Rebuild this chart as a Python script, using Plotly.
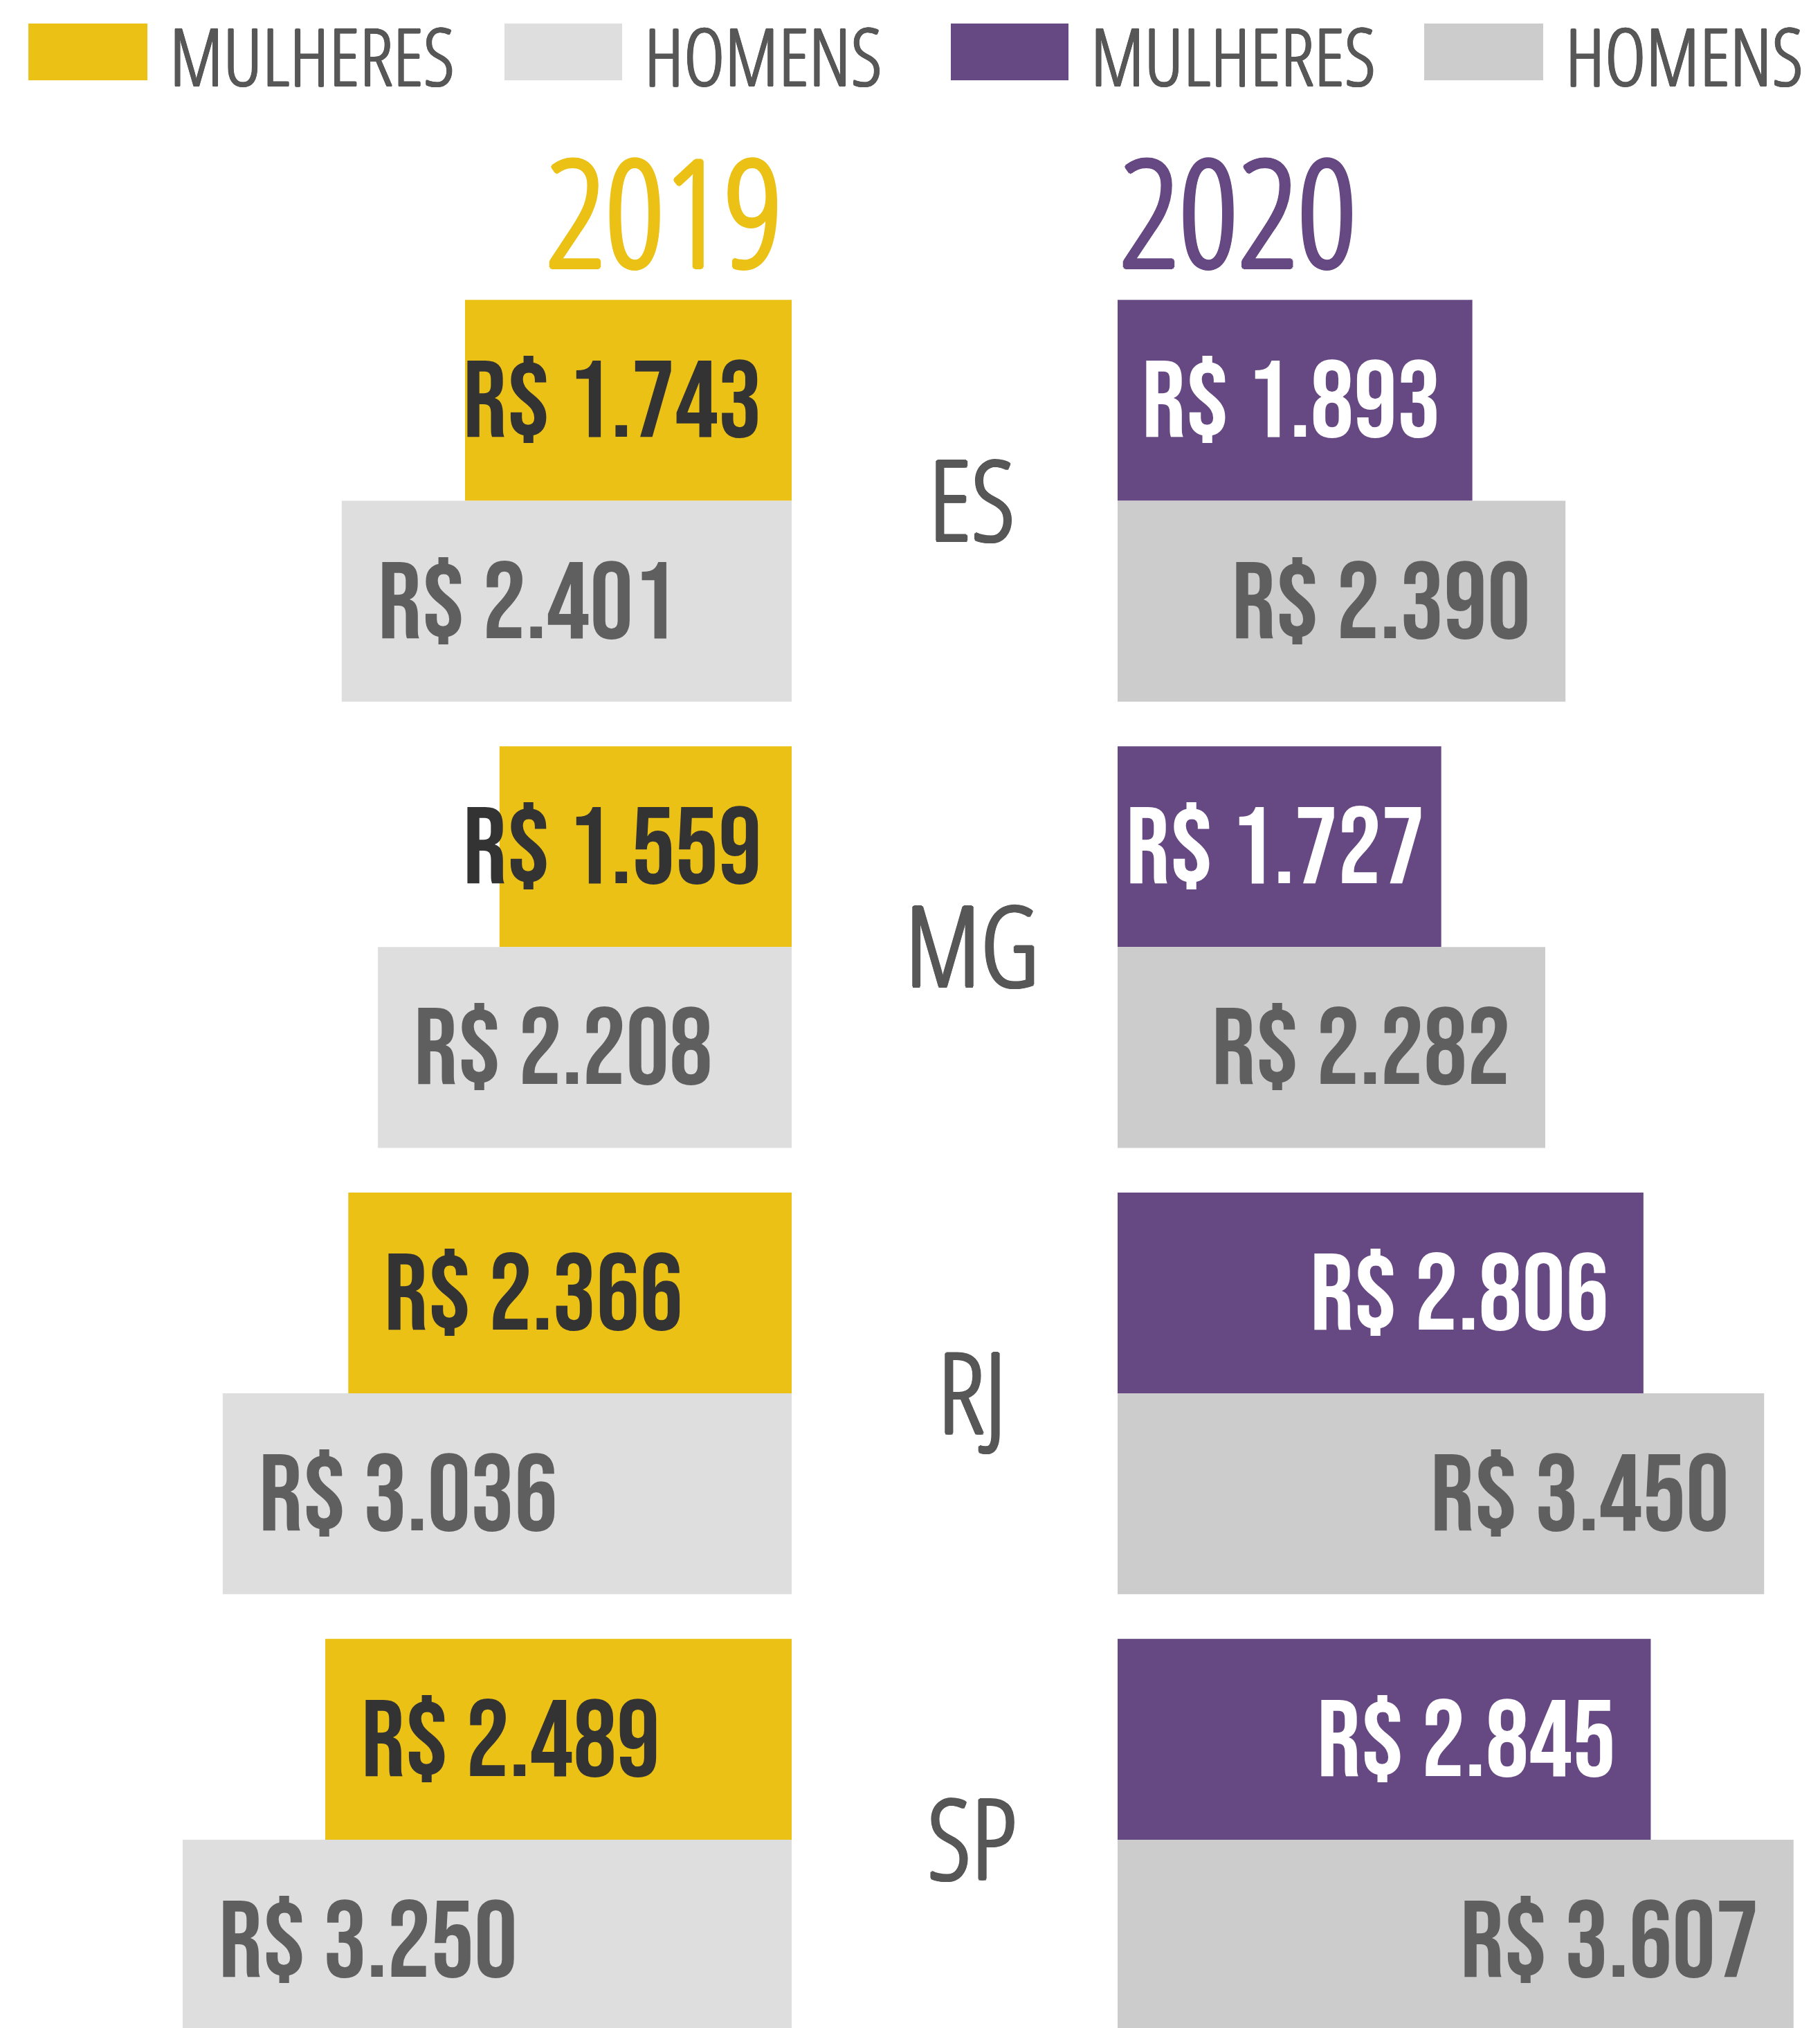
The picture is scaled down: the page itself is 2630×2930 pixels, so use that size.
import plotly.graph_objects as go

# salário médio (R$) por estado, mulheres x homens
estados = ["ES", "MG", "RJ", "SP"]
mulheres_2019 = [1743, 1559, 2366, 2489]
homens_2019 = [2401, 2208, 3036, 3250]
mulheres_2020 = [1893, 1727, 2806, 2845]
homens_2020 = [2390, 2282, 3450, 3607]

legenda = ["MULHERES", "HOMENS", "MULHERES", "HOMENS"]
anos = ["2019", "2020"]

AMARELO = "#ECC116"
CINZA_CLARO = "#DEDEDE"
ROXO = "#664883"
CINZA = "#CCCCCC"
TEXTO = "#575757"

W, H = 2630, 2930
PX_POR_REAL = 0.2708          # escala horizontal (px por R$)
ESQ_FIM = 1144                 # px onde terminam as barras de 2019
DIR_INI = 1615                 # px onde começam as barras de 2020
LARG_ROTULO = 425              # largura aproximada de "R$ 0.000"

FONTE_VALOR = "Bebas Neue, Oswald, sans-serif"
FONTE_TEXTO = "Open Sans Condensed Light, Oswald, sans-serif"


def reais(v):
    return "R$ " + f"{v:,}".replace(",", ".")


def engrossa(cor, d):
    # a fonte light fica fina demais; sombra sem blur em volta engrossa o traço
    passos = [(d, 0), (-d, 0), (0, d), (0, -d),
              (d * 0.7, d * 0.7), (-d * 0.7, d * 0.7), (d * 0.7, -d * 0.7), (-d * 0.7, -d * 0.7)]
    return ", ".join(f"{a:.1f}px {b:.1f}px 0 {cor}" for a, b in passos)


fig = go.Figure()
series = [
    (mulheres_2019, AMARELO, "x", "Mulheres 2019"),
    (homens_2019, CINZA_CLARO, "x", "Homens 2019"),
    (mulheres_2020, ROXO, "x2", "Mulheres 2020"),
    (homens_2020, CINZA, "x2", "Homens 2020"),
]
for vals, cor, xa, nome in series:
    fig.add_trace(
        go.Bar(
            x=vals,
            y=estados,
            orientation="h",
            name=nome,
            marker=dict(color=cor, line=dict(width=0)),
            xaxis=xa,
            yaxis="y",
            offsetgroup=nome.split()[0],
            hoverinfo="x+y+name",
        )
    )

BARGAP = 0.1
meia = (1 - BARGAP) / 4  # deslocamento do centro de cada barra no grupo

# rótulos de valor
cores_rotulo = ["#333333", "#5F5F5F", "#FFFFFF", "#5F5F5F"]
for s, (vals, cor, xa, nome) in enumerate(series):
    desloc = -meia if s % 2 == 0 else meia
    for i, v in enumerate(vals):
        comp = v * PX_POR_REAL
        if xa == "x":
            if comp >= LARG_ROTULO + 100:
                xpos, anc, shift = v, "left", 50
            else:
                xpos, anc, shift = 0, "right", -41
        else:
            pad = max(12, min(48, (comp - LARG_ROTULO) / 2))
            xpos, anc, shift = v, "right", -pad
        fig.add_annotation(
            x=xpos, y=i + desloc, xref=xa, yref="y",
            text=reais(v), showarrow=False,
            xanchor=anc, yanchor="middle", xshift=shift, yshift=-6,
            font=dict(family=FONTE_VALOR, size=157, color=cores_rotulo[s]),
        )

# siglas dos estados
for i, e in enumerate(estados):
    fig.add_annotation(
        x=1404 / W, y=i, xref="paper", yref="y", text=e, showarrow=False,
        xanchor="center", yanchor="middle", yshift=5,
        font=dict(family=FONTE_TEXTO, size=160, color=TEXTO, shadow=engrossa(TEXTO, 2.2)),
    )

# anos
fig.add_annotation(
    x=1133 / W, y=1 - 303 / H, xref="paper", yref="paper", text=anos[0],
    showarrow=False, xanchor="right", yanchor="middle",
    font=dict(family=FONTE_TEXTO, size=214, color=AMARELO, shadow=engrossa(AMARELO, 3)),
)
fig.add_annotation(
    x=1616 / W, y=1 - 303 / H, xref="paper", yref="paper", text=anos[1],
    showarrow=False, xanchor="left", yanchor="middle",
    font=dict(family=FONTE_TEXTO, size=214, color=ROXO, shadow=engrossa(ROXO, 3)),
)

# legenda desenhada à mão
caixas = [(41, 213), (729, 899), (1374, 1544), (2058, 2230)]
cores_leg = [AMARELO, CINZA_CLARO, ROXO, CINZA]
for (x0, x1), cor, txt in zip(caixas, cores_leg, legenda):
    fig.add_shape(
        type="rect", xref="paper", yref="paper",
        x0=x0 / W, x1=x1 / W, y0=1 - 116 / H, y1=1 - 34 / H,
        fillcolor=cor, line=dict(width=0),
    )
    fig.add_annotation(
        x=(x1 + 30) / W, y=1 - 80 / H, xref="paper", yref="paper", text=txt,
        showarrow=False, xanchor="left", yanchor="middle",
        font=dict(family=FONTE_TEXTO, size=114, color=TEXTO, shadow=engrossa(TEXTO, 1.3)),
    )

# eixo y em unidades de categoria: ES no topo
topo = -723.5 / 644.8
base = topo + H / 644.8

fig.update_layout(
    width=W,
    height=H,
    margin=dict(l=0, r=0, t=0, b=0),
    paper_bgcolor="white",
    plot_bgcolor="white",
    showlegend=False,
    barmode="group",
    bargap=BARGAP,
    bargroupgap=0,
    xaxis=dict(domain=[0, ESQ_FIM / W], range=[ESQ_FIM / PX_POR_REAL, 0], visible=False),
    xaxis2=dict(domain=[DIR_INI / W, 1], range=[0, (W - DIR_INI) / PX_POR_REAL], visible=False),
    yaxis=dict(type="category", categoryarray=estados, categoryorder="array",
               range=[base, topo], visible=False),
)
fig.write_html(
    "out.html",
    config={"displayModeBar": False},
    post_script="document.body.style.margin='0px';",
)
